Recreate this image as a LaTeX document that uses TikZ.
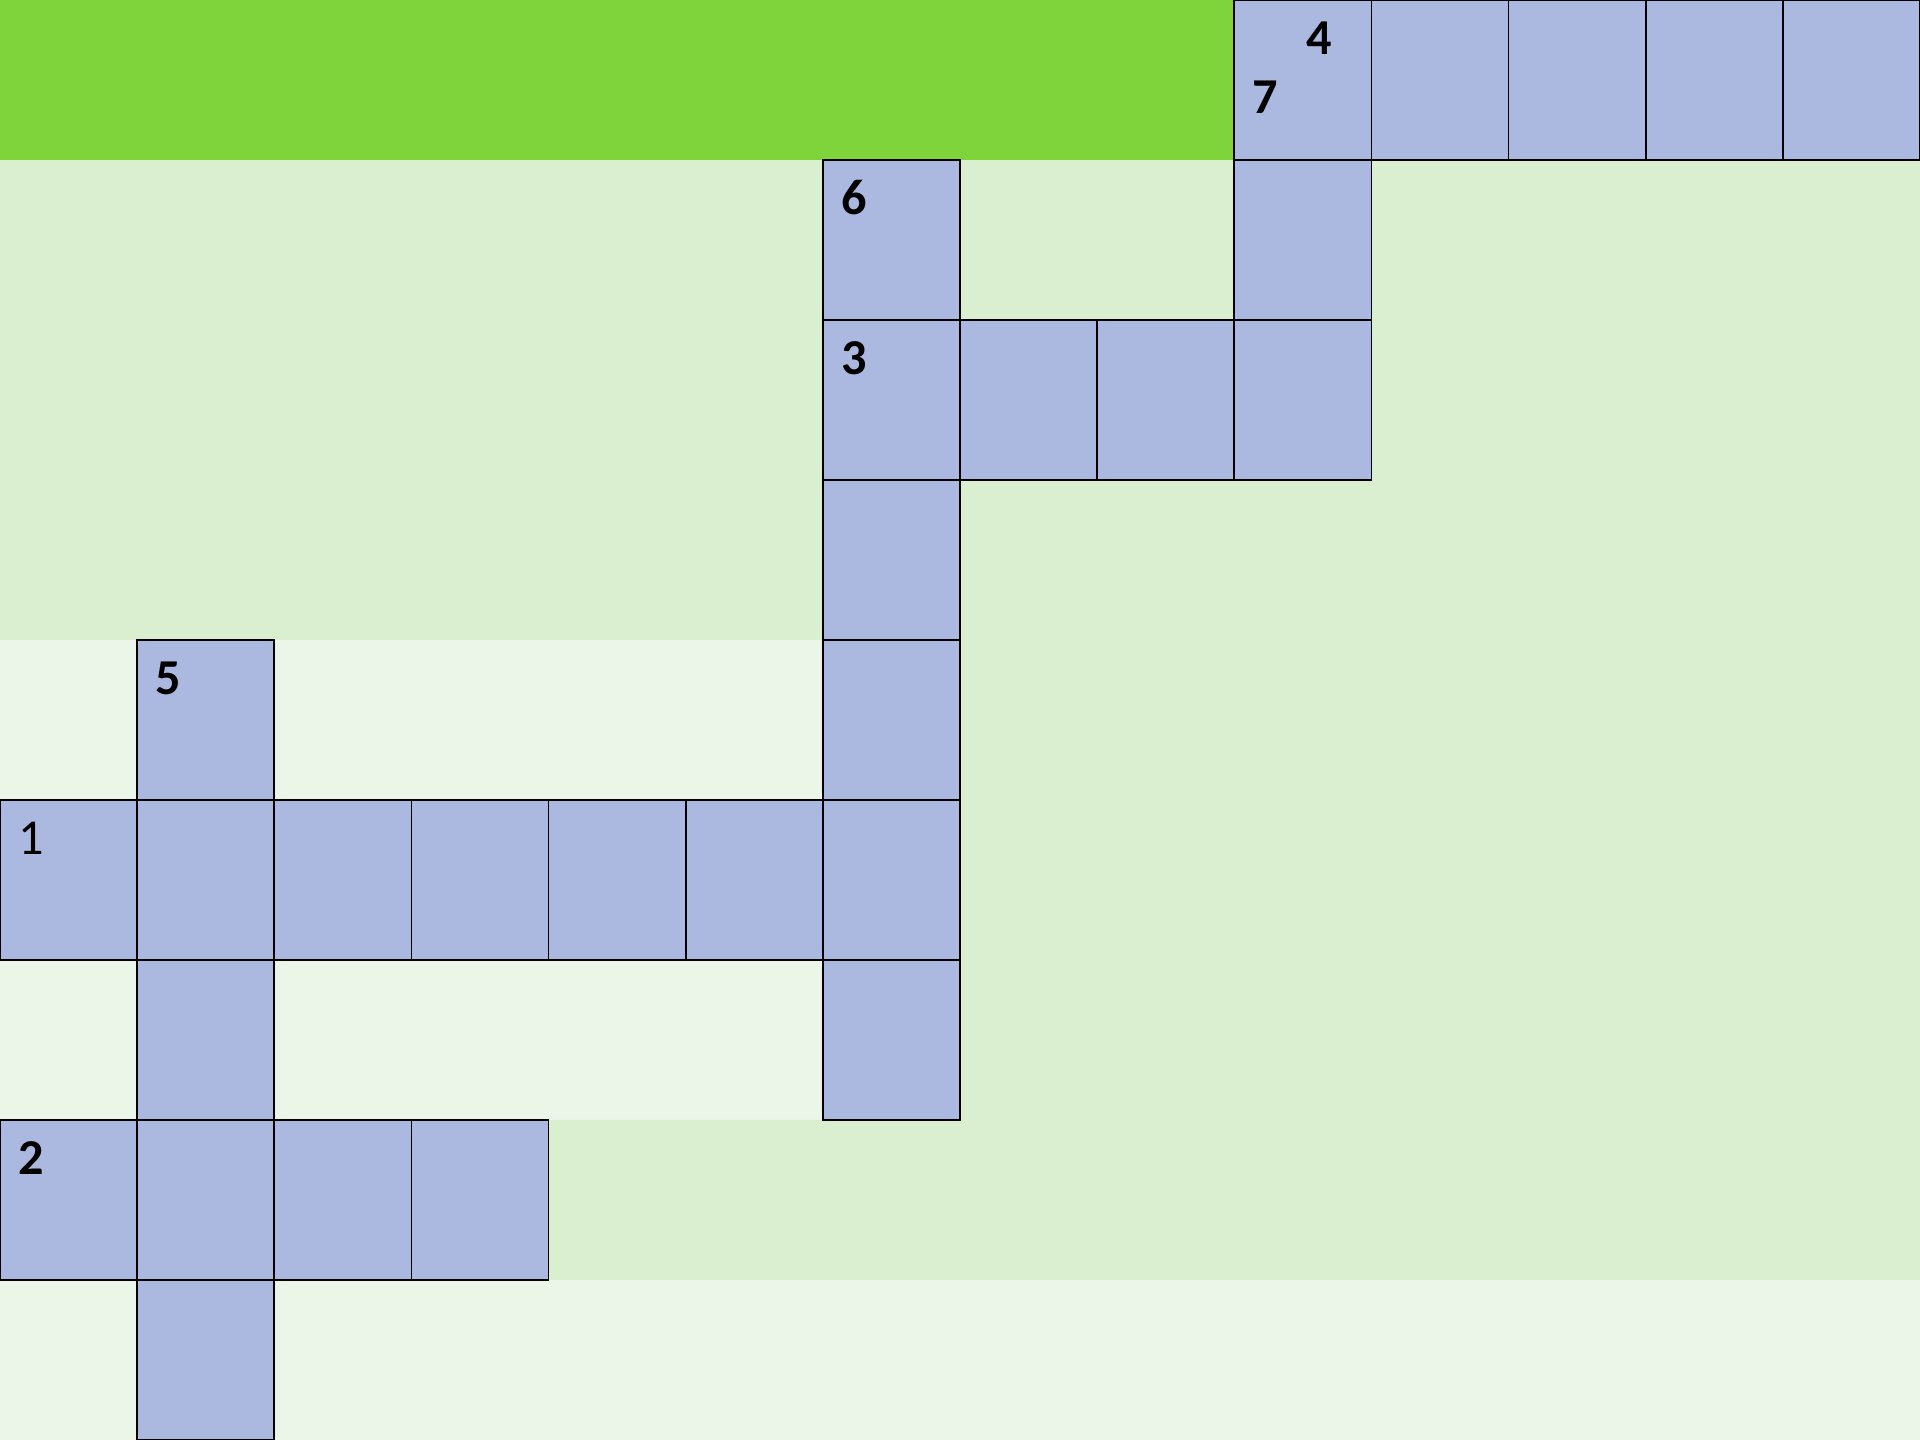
\documentclass[tikz,border=0pt]{standalone}
\usepackage{fontspec}
\setmainfont{Carlito}
\usetikzlibrary{positioning}
\definecolor{bandgreen}{RGB}{127,211,59}
\definecolor{fieldgreen}{RGB}{218,238,208}
\definecolor{palegreen}{RGB}{236,246,232}
\definecolor{cellblue}{RGB}{171,185,224}

\begin{document}
\begin{tikzpicture}[x=1.2cm, y=-1.4cm,
  cell/.style={draw, line width=0.45pt, fill=cellblue, rectangle, minimum width=1.2cm, minimum height=1.4cm, inner sep=0pt, outer sep=0pt},
  num/.style={anchor=base west, inner sep=0pt, font=\fontsize{12.5}{14}\selectfont\bfseries},
  numplain/.style={num, font=\fontsize{12.5}{14}\selectfont}
]
\useasboundingbox (0,0) rectangle (14,9);
% background
\fill[palegreen] (0,0) rectangle (14,9);
\fill[fieldgreen] (0,1) -- (14,1) -- (14,8) -- (4,8) -- (4,7) -- (7,7) -- (7,4) -- (0,4) -- cycle;
\fill[bandgreen] (0,0) rectangle (9,1);

% row 0
\node[cell] (r0c9) at (9.5,0.5) {};
\node[cell] (r0c10) at (10.5,0.5) {};
\node[cell] (r0c11) at (11.5,0.5) {};
\node[cell] (r0c12) at (12.5,0.5) {};
\node[cell] (r0c13) at (13.5,0.5) {};
% row 1
\node[cell] (r1c6) at (6.5,1.5) {};
\node[cell] (r1c9) at (9.5,1.5) {};
% row 2
\node[cell] (r2c6) at (6.5,2.5) {};
\node[cell] (r2c7) at (7.5,2.5) {};
\node[cell] (r2c8) at (8.5,2.5) {};
\node[cell] (r2c9) at (9.5,2.5) {};
% row 3
\node[cell] (r3c6) at (6.5,3.5) {};
% row 4
\node[cell] (r4c1) at (1.5,4.5) {};
\node[cell] (r4c6) at (6.5,4.5) {};
% row 5
\node[cell] (r5c0) at (0.5,5.5) {};
\node[cell] (r5c1) at (1.5,5.5) {};
\node[cell] (r5c2) at (2.5,5.5) {};
\node[cell] (r5c3) at (3.5,5.5) {};
\node[cell] (r5c4) at (4.5,5.5) {};
\node[cell] (r5c5) at (5.5,5.5) {};
\node[cell] (r5c6) at (6.5,5.5) {};
% row 6
\node[cell] (r6c1) at (1.5,6.5) {};
\node[cell] (r6c6) at (6.5,6.5) {};
% row 7
\node[cell] (r7c0) at (0.5,7.5) {};
\node[cell] (r7c1) at (1.5,7.5) {};
\node[cell] (r7c2) at (2.5,7.5) {};
\node[cell] (r7c3) at (3.5,7.5) {};
% row 8
\node[cell] (r8c1) at (1.5,8.5) {};

% clue numbers
\node[numplain] (n1) at (0.13,5.343) {1};
\node[num] (n2) at (0.13,7.343) {2};
\node[num] (n3) at (6.13,2.343) {3};
\node[num] (n4) at (9.52,0.343) {4};
\node[num] (n5) at (1.13,4.343) {5};
\node[num] (n6) at (6.13,1.343) {6};
\node[num] (n7) at (9.13,0.707) {7};
\end{tikzpicture}
\end{document}
